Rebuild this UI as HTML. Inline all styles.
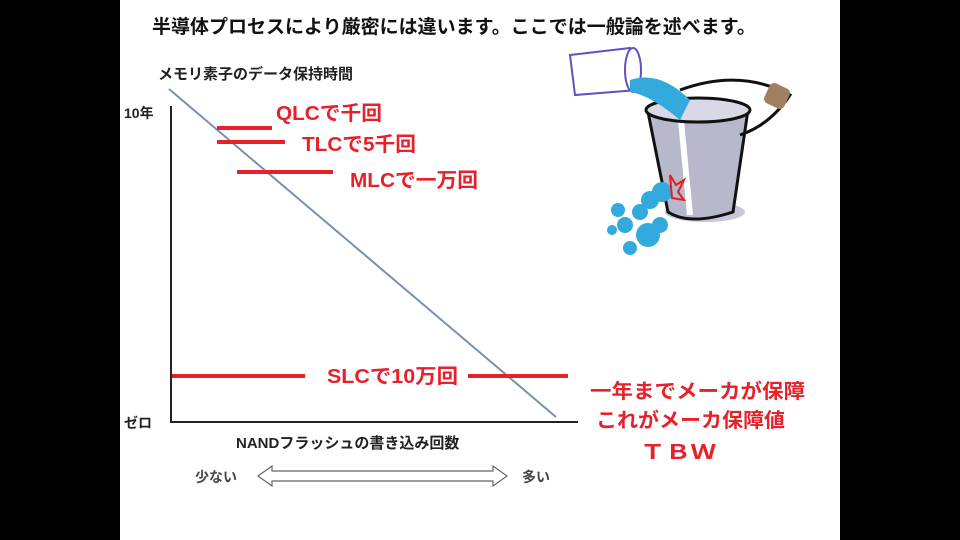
<!DOCTYPE html>
<html><head><meta charset="utf-8"><style>
body{margin:0;width:960px;height:540px;background:#000;overflow:hidden}
svg{display:block}
text{font-family:"Liberation Sans","Noto Sans CJK JP",sans-serif;font-weight:bold}
</style></head><body>
<svg width="960" height="540" viewBox="0 0 960 540">
<rect x="120" y="0" width="720" height="540" fill="#fff"/>
<text x="152" y="33" font-size="19" fill="#111">半導体プロセスにより厳密には違います。ここでは一般論を述べます。</text>
<text x="158" y="79" font-size="15" fill="#222" font-weight="normal">メモリ素子のデータ保持時間</text>
<text x="124" y="118" font-size="14" fill="#222">10年</text>
<text x="124" y="428" font-size="14" fill="#222">ゼロ</text>
<line x1="171" y1="106" x2="171" y2="422" stroke="#222" stroke-width="2"/>
<line x1="170" y1="422" x2="578" y2="422" stroke="#222" stroke-width="2"/>
<line x1="169" y1="89" x2="556" y2="417" stroke="#7890b8" stroke-width="2"/>
<g stroke="#e8202a" stroke-width="4">
<line x1="217" y1="128" x2="272" y2="128"/>
<line x1="217" y1="142" x2="285" y2="142"/>
<line x1="237" y1="172" x2="333" y2="172"/>
<line x1="172" y1="376" x2="305" y2="376"/>
<line x1="468" y1="376" x2="568" y2="376"/>
</g>
<g fill="#e8202a" font-size="20">
<text x="276" y="120" textLength="106" lengthAdjust="spacingAndGlyphs">QLCで千回</text>
<text x="302" y="151" textLength="114" lengthAdjust="spacingAndGlyphs">TLCで5千回</text>
<text x="350" y="187" textLength="128" lengthAdjust="spacingAndGlyphs">MLCで一万回</text>
<text x="327" y="383" textLength="131" lengthAdjust="spacingAndGlyphs">SLCで10万回</text>
<text x="590" y="398" textLength="215" lengthAdjust="spacingAndGlyphs">一年までメーカが保障</text>
<text x="596" y="427" textLength="189" lengthAdjust="spacingAndGlyphs">これがメーカ保障値</text>
<text x="640" y="459" textLength="76" lengthAdjust="spacingAndGlyphs">ＴＢＷ</text>
</g>
<text x="236" y="448" font-size="15" fill="#222">NANDフラッシュの書き込み回数</text>
<text x="195" y="482" font-size="14" fill="#444" font-weight="normal">少ない</text>
<text x="522" y="482" font-size="14" fill="#444" font-weight="normal">多い</text>
<path d="M258 476 L272 466 L272 471 L493 471 L493 466 L507 476 L493 486 L493 481 L272 481 L272 486 Z" fill="#fff" stroke="#666" stroke-width="1.2"/>
<!-- bucket -->
<ellipse cx="705" cy="212" rx="40" ry="10" fill="#c8c8d8"/>
<path d="M648 112 Q700 88 748 110 L733 212 Q690 226 668 212 Z" fill="#b8b8cc" stroke="#111" stroke-width="3"/>
<path d="M680 110 L690 215" stroke="#fff" stroke-width="6"/>
<ellipse cx="698" cy="110" rx="52" ry="12" fill="#d8d8e6" stroke="#111" stroke-width="3"/>
<path d="M680 90 Q740 68 790 95 Q770 125 740 135" fill="none" stroke="#111" stroke-width="3"/>
<rect x="766" y="85" width="22" height="22" rx="5" fill="#a08060" transform="rotate(25 777 96)"/>
<path d="M570 55 L630 48 L638 90 L575 95 Z" fill="#fff" stroke="#6050c0" stroke-width="2"/>
<ellipse cx="633" cy="70" rx="8" ry="22" fill="#fff" stroke="#6050c0" stroke-width="2"/>
<g fill="#33aadd">
<path d="M630 80 Q660 70 690 100 L680 120 Q650 95 630 92 Z"/>
<circle cx="662" cy="192" r="10"/><circle cx="650" cy="200" r="9"/><circle cx="640" cy="212" r="8"/>
<circle cx="618" cy="210" r="7"/><circle cx="625" cy="225" r="8"/><circle cx="648" cy="235" r="12"/>
<circle cx="630" cy="248" r="7"/><circle cx="660" cy="225" r="8"/><circle cx="612" cy="230" r="5"/>
</g>
<path d="M670 175 L676 185 L684 180 L678 192 L684 200 L672 198 Z" fill="none" stroke="#e02020" stroke-width="2"/>
</svg>
</body></html>
